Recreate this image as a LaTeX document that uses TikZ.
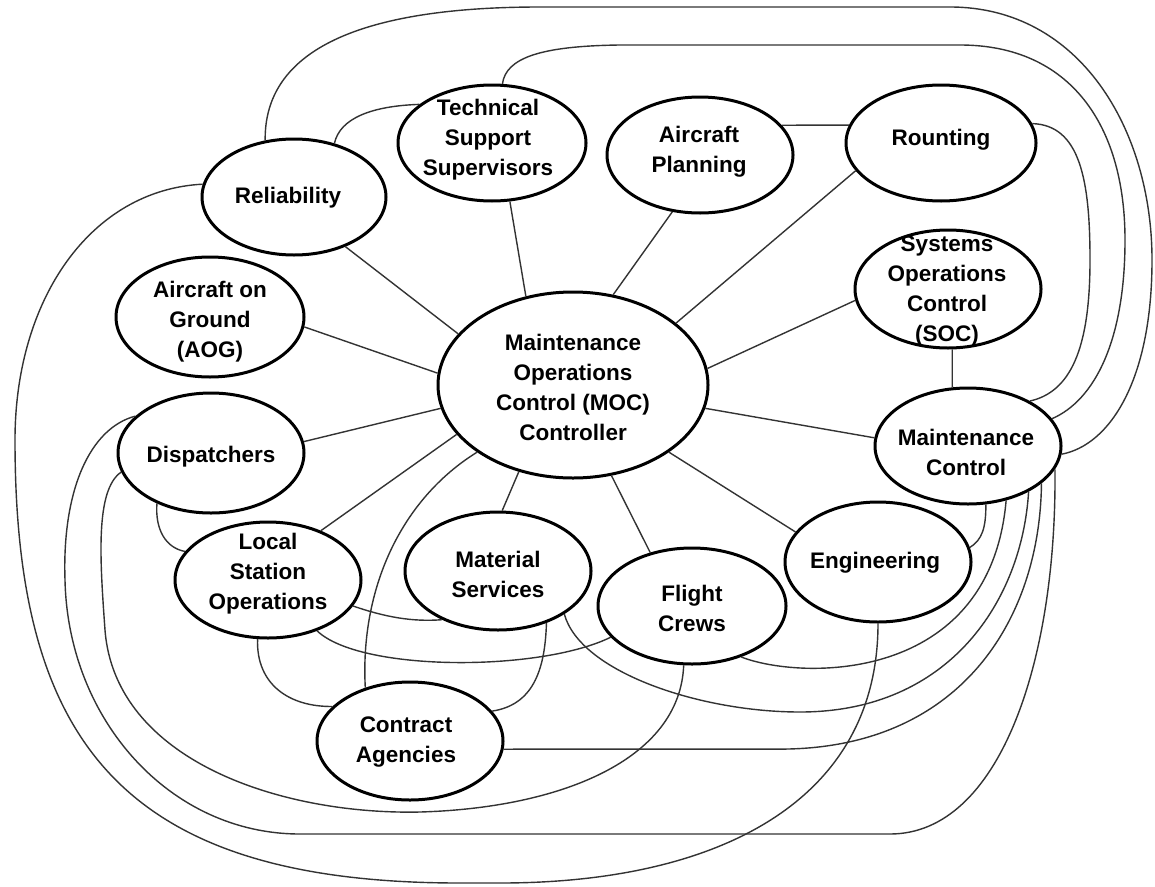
\documentclass[tikz,border=0pt]{standalone}
\usepackage{fontspec}
\setmainfont{Liberation Sans}
\usetikzlibrary{shapes.geometric}
\newcommand{\lblfont}{\fontsize{22.5}{30}\selectfont\bfseries}
\begin{document}
\begin{tikzpicture}[x=1pt,y=-1pt,
  bub/.style={ellipse, draw=black, line width=3pt, inner sep=0pt},
  lab/.style={font=\lblfont, align=center, inner sep=0pt, text=black},
  con/.style={line width=1.4pt, draw=black!80}]
\fill[white] (0,0) rectangle (1155,886);
\useasboundingbox (0,0) rectangle (1155,886);
% ellipses
\node[bub, minimum width=184pt, minimum height=116pt] (rel) at (294,197) {};
\node[bub, minimum width=188pt, minimum height=116pt] (tss) at (492,143) {};
\node[bub, minimum width=186pt, minimum height=116pt] (ap)  at (700,155) {};
\node[bub, minimum width=190pt, minimum height=116pt] (rou) at (941,143) {};
\node[bub, minimum width=186pt, minimum height=118pt] (soc) at (948,289) {};
\node[bub, minimum width=186pt, minimum height=116pt] (mc)  at (968,446) {};
\node[bub, minimum width=186pt, minimum height=120pt] (eng) at (878,562) {};
\node[bub, minimum width=188pt, minimum height=116pt] (fc)  at (692,606) {};
\node[bub, minimum width=186pt, minimum height=118pt] (ms)  at (498,571) {};
\node[bub, minimum width=186pt, minimum height=116pt] (lso) at (268,580) {};
\node[bub, minimum width=186pt, minimum height=118pt] (ca)  at (410,741) {};
\node[bub, minimum width=186pt, minimum height=120pt] (dis) at (211,453) {};
\node[bub, minimum width=188pt, minimum height=120pt] (aog) at (210,317) {};
\node[bub, minimum width=270pt, minimum height=186pt] (moc) at (573,385) {};
% labels
\node[lab] (relT) at (288,198) {Reliability};
\node[lab] (tssT) at (488,140) {Technical\\Support\\Supervisors};
\node[lab] (apT)  at (699,152) {Aircraft\\Planning};
\node[lab] (rouT) at (941,140) {Rounting};
\node[lab] (socT) at (947,291) {Systems\\Operations\\Control\\(SOC)};
\node[lab] (mcT)  at (966,452) {Maintenance\\Control};
\node[lab] (engT) at (875,563) {Engineering};
\node[lab] (fcT)  at (692,608) {Flight\\Crews};
\node[lab] (msT)  at (498,574) {Material\\Services};
\node[lab] (lsoT) at (268,574) {Local\\Station\\Operations};
\node[lab] (caT)  at (406,742) {Contract\\Agencies};
\node[lab] (disT) at (211,457) {Dispatchers};
\node[lab] (aogT) at (210,322) {Aircraft on\\Ground\\(AOG)};
\node[lab] (mocT) at (573,387) {Maintenance\\Operations\\Control (MOC)\\Controller};
% spokes from MOC
\draw[con] (moc.156) -- (rel.316);
\draw[con] (moc.118) -- (tss.287);
\draw[con] (moc.175) -- (aog.354);
\draw[con] (moc.190) -- (dis.7);
\draw[con] (moc.66) -- (ap.244);
\draw[con] (moc.31) -- (rou.198);
\draw[con] (moc.7) -- (soc.187);
\draw[con] (moc.350) -- (mc.175);
\draw[con] (moc.325) -- (eng.160);
\draw[con] (moc.293) -- (fc.128);
\draw[con] (moc.238) -- (ms.86);
\draw[con] (moc.203) -- (lso.43);
\draw[con] (soc.274) -- (mc.105);
\draw[con] (ap.20) -- (rou.169);
% curved links
\draw[con] (rel.53) .. controls (340,118) and (372,106) .. (tss.152);
\draw[con] (rel.117) .. controls (264,50) and (360,7) .. (540,7) -- (950,7)
  .. controls (1080,7) and (1152,130) .. (1152,260)
  .. controls (1152,380) and (1110,445) .. (mc.355);
\draw[con] (tss.80) .. controls (506,58) and (540,46) .. (620,45) -- (960,45)
  .. controls (1070,45) and (1125,125) .. (1125,240)
  .. controls (1125,340) and (1095,400) .. (mc.18);
\draw[con] (rou.12) .. controls (1080,125) and (1090,180) .. (1090,260)
  .. controls (1090,350) and (1070,392) .. (mc.36);
\draw[con] (rel.172) .. controls (90,190) and (15,300) .. (15,440)
  .. controls (15,740) and (120,883) .. (460,883) -- (500,883)
  .. controls (720,883) and (878,800) .. (eng.270);
\draw[con] (dis.154) .. controls (90,428) and (62,490) .. (65,580)
  .. controls (68,720) and (170,834) .. (300,834) -- (890,834)
  .. controls (1000,834) and (1057,660) .. (mc.345);
\draw[con] (dis.192) .. controls (95,490) and (100,560) .. (105,630)
  .. controls (115,760) and (280,815) .. (420,812)
  .. controls (560,808) and (680,760) .. (fc.262);
\draw[con] (dis.223) .. controls (155,530) and (166,548) .. (lso.161);
\draw[con] (lso.260) .. controls (256,685) and (290,707) .. (ca.156);
\draw[con] (lso.343) .. controls (385,617) and (412,622) .. (ms.221);
\draw[con] (lso.314) .. controls (360,672) and (540,672) .. (fc.201);
\draw[con] (ms.313) .. controls (545,672) and (532,705) .. (ca.20);
\draw[con] (ms.327) .. controls (580,672) and (700,712) .. (800,712)
  .. controls (950,712) and (1022,600) .. (mc.323);
\draw[con] (ca.355) -- (780,749.1) .. controls (960,749) and (1040,620) .. (mc.333);
\draw[con] (fc.314) .. controls (800,680) and (990,685) .. (mc.305);
\draw[con] (mc.287) .. controls (986,528) and (982,540) .. (eng.9);
\draw[con] (ca.130) .. controls (360,590) and (400,500) .. (moc.215);
\end{tikzpicture}
\end{document}
